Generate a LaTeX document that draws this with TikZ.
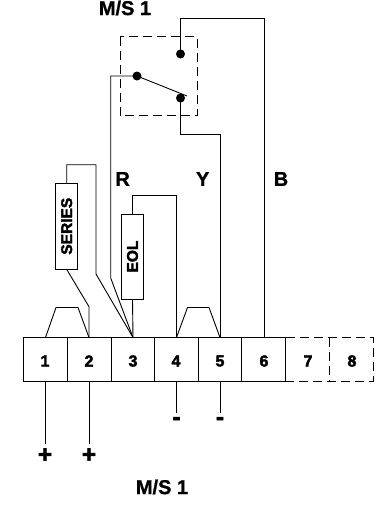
\documentclass[tikz,border=0pt]{standalone}
\usepackage{fontspec}
\setmainfont{Liberation Sans}
\newfontfamily\heavy[FakeBold=2.5]{Liberation Sans Bold}
\newfontfamily\medium[FakeBold=1]{Liberation Sans Bold}
\tikzset{
  wire/.style={draw=black,line width=0.9pt,line join=miter},
  dashbox/.style={draw=black,line width=0.9pt,dash pattern=on 9pt off 5pt},
  part/.style={draw=black,fill=white,line width=0.9pt,minimum height=22pt,inner sep=0pt,rotate=90},
  lab/.style={font=\medium\fontsize{20}{20}\selectfont,inner sep=0pt},
  num/.style={font=\heavy\fontsize{16}{16}\selectfont,inner sep=0pt},
  dot/.style={circle,fill=black,inner sep=0pt,minimum size=9pt},
  pl/.style={font=\heavy\fontsize{24}{24}\selectfont,inner sep=0pt}
}
\begin{document}
\begin{tikzpicture}[x=1pt,y=-1pt]
\useasboundingbox (0,0) rectangle (382,506);
% terminal strip
\coordinate (s0) at (23,337.5); \coordinate (s1) at (67,337.5); \coordinate (s2) at (111,337.5);
\coordinate (s3) at (154.5,337.5); \coordinate (s4) at (198,337.5); \coordinate (s5) at (241.7,337.5);
\coordinate (s6) at (285.7,337.5); \coordinate (s7) at (329,337.5); \coordinate (s8) at (373,337.5);
\coordinate (b0) at (23,381); \coordinate (b1) at (67,381); \coordinate (b2) at (111,381);
\coordinate (b3) at (154.5,381); \coordinate (b4) at (198,381); \coordinate (b5) at (241.7,381);
\coordinate (b6) at (285.7,381); \coordinate (b7) at (329,381); \coordinate (b8) at (373,381);
\draw[wire] (b0) rectangle (s6);
\foreach \i in {1,...,5} {\draw[wire] (s\i) -- (b\i);}
\draw[dashbox] (s6) -- (s8) -- (b8) -- (b6);
\draw[dashbox] (s7) -- (b7);
% terminals
\coordinate (t1) at (45.5,337.5); \coordinate (t2) at (89,337.5); \coordinate (t3) at (133,337.5);
\coordinate (t4) at (176.5,337.5); \coordinate (t5) at (220,337.5); \coordinate (t6) at (264,337.5);
\foreach \i/\x in {1/45,2/89,3/133,4/176,5/220,6/264,7/308,8/352} {\node[num] (n\i) at (\x,361) {\i};}
% switch
\draw[dashbox] (120.3,36.5) rectangle (197.3,115.5);
\node[dot] (d1) at (137,76) {};
\node[dot] (d2) at (180.5,54) {};
\node[dot] (d3) at (180.5,98) {};
\coordinate (sw) at (187,96);
\draw[wire] (d1.center) -- (sw);
% series and EOL
\node[part,minimum width=85.5pt] (series) at (66.7,226.2) {\heavy\fontsize{15.5}{15.5}\selectfont SERIES};
\node[part,minimum width=85pt] (eol) at (132.5,256.5) {\heavy\fontsize{15.5}{15.5}\selectfont EOL};
% wires
\draw[wire] (t1) -- (56,307.5) -- (78,307.5) -- (t2);
\draw[wire] (t2) -- (89,306.7) -- (series.west);
\draw[wire] (series.east) -- (66.7,164.7) -- (96,164.7) -- (96,274) -- (t3);
\draw[wire] (d1.center) -- (110.7,76) -- (110.7,278) -- (t3);
\draw[wire] (eol.west) -- (t3);
\draw[wire] (eol.east) -- (132.5,195) -- (176.5,195) -- (t4);
\draw[wire] (t4) -- (187.5,307.5) -- (209,307.5) -- (t5);
\draw[wire] (d3.center) -- (180.5,134) -- (220,134) -- (t5);
\draw[wire] (d2.center) -- (180.5,18.5) -- (264,18.5) -- (t6);
% bottom leads
\coordinate (l1) at (45.5,381); \coordinate (l2) at (89,381); \coordinate (l4) at (176,381); \coordinate (l5) at (220,381);
\node[pl] (p1) at (45,455.5) {+}; \node[pl] (p2) at (89,455.5) {+};
\node[pl] (m1) at (176.5,421) {-}; \node[pl] (m2) at (220,421) {-};
\coordinate (e1) at (45.5,444); \coordinate (e2) at (89,444); \coordinate (e4) at (176,412.7); \coordinate (e5) at (220,412.7);
\draw[wire] (l1) -- (e1);
\draw[wire] (l2) -- (e2);
\draw[wire] (l4) -- (e4);
\draw[wire] (l5) -- (e5);
% labels
\node[lab] (r) at (122.7,179) {R};
\node[lab] (y) at (202.7,179) {Y};
\node[lab] (bb) at (281,179) {B};
\node[lab] (top) at (125,8) {M/S 1};
\node[lab] (bot) at (162,487) {M/S 1};
\end{tikzpicture}
\end{document}
